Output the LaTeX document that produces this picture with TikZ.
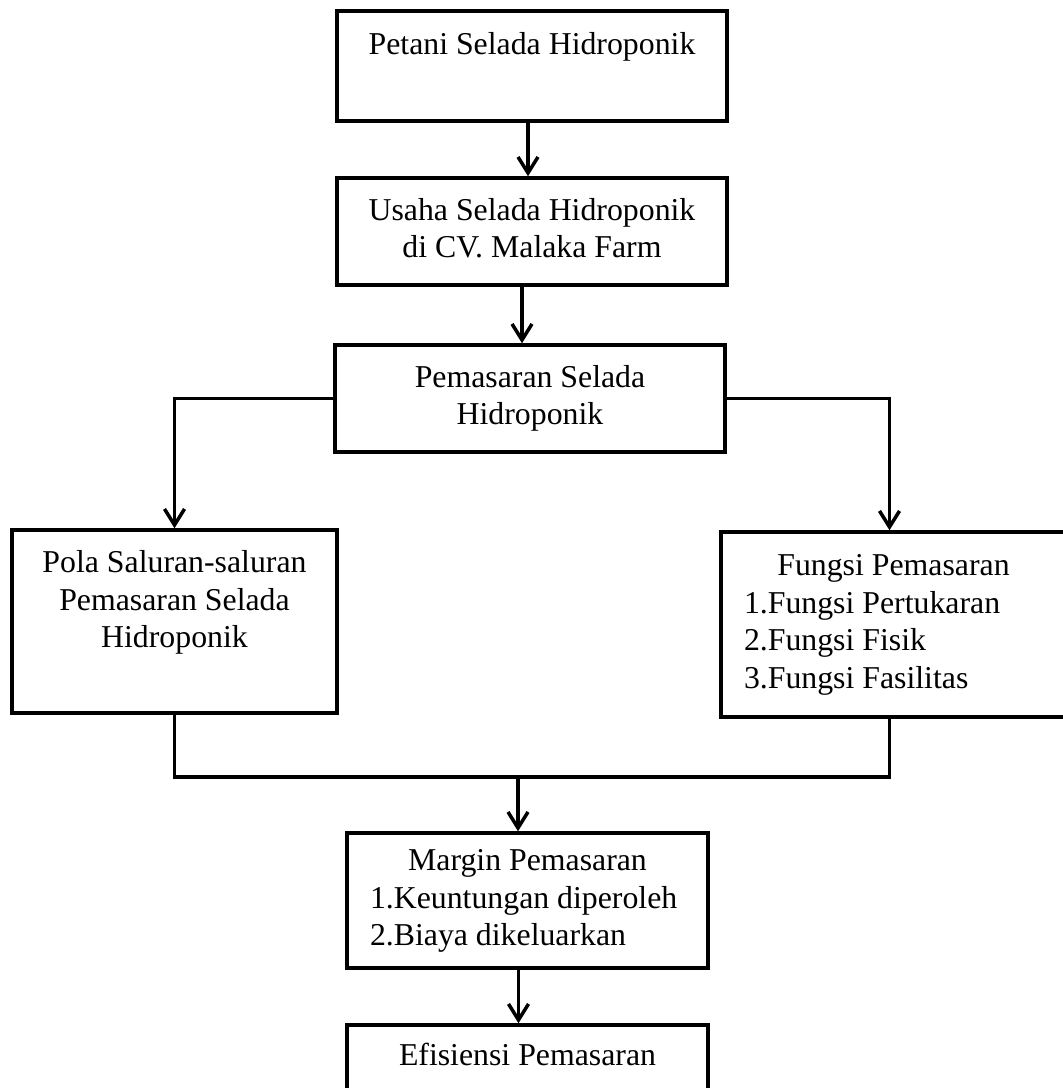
\documentclass[tikz,border=0pt]{standalone}
\usepackage{fontspec}
\setmainfont{Liberation Serif}
\usetikzlibrary{positioning, arrows.meta, calc}

\newcommand{\listline}[2]{\makebox[#1][l]{#2}}

\begin{document}
\begin{tikzpicture}[x=0.5pt,y=-0.5pt,font=\fontsize{15.9}{18.75}\selectfont,
  box/.style={draw, line width=1.75pt, inner sep=0pt, align=center},
  arr/.style={line width=1.75pt, -{Straight Barb[length=8pt,width=10pt]}},
  link/.style={line width=1.75pt}]

\useasboundingbox (0,0) rectangle (1062,1088);

% Boxes
\node[box, minimum width=195pt, minimum height=55pt] (petani) at (532,66) {\strut Petani Selada Hidroponik\\ \strut};
\node[box, minimum width=195pt, minimum height=53.5pt] (usaha) at (532,231.5) {\strut Usaha Selada Hidroponik\\ di CV. Malaka Farm\strut};
\node[box, minimum width=195pt, minimum height=53.5pt] (pemasaran) at (530,398.5) {\strut Pemasaran Selada\\ Hidroponik\strut};
\node[box, minimum width=162.5pt, minimum height=91.5pt] (pola) at (174.5,621.5) {\strut Pola Saluran-saluran\\ Pemasaran Selada\\ Hidroponik\\ \strut};
\node[box, minimum width=172.5pt, minimum height=92.5pt] (fungsi) at (893.5,624.5) {\strut Fungsi Pemasaran\\
  \listline{149.5pt}{1.Fungsi Pertukaran}\\
  \listline{149.5pt}{2.Fungsi Fisik}\\
  \listline{149.5pt}{3.Fungsi Fasilitas\strut}};
\node[box, minimum width=180.5pt, minimum height=67.5pt] (margin) at (527.5,900.5) {\strut Margin Pemasaran\\
  \listline{157.5pt}{1.Keuntungan diperoleh}\\
  \listline{157.5pt}{2.Biaya dikeluarkan\strut}};
\node[box, minimum width=180.5pt, minimum height=33pt] (efisiensi) at (527.5,1058) {\strut Efisiensi Pemasaran};

% Arrows
\draw[arr] ([xshift=-2pt]petani.south) -- ([xshift=-2pt]usaha.north);
\draw[arr] ([xshift=-5pt]usaha.south) -- ([xshift=-5pt]usaha.south |- pemasaran.north);
\draw[arr] (pemasaran.west) -| (pola.north);
\draw[arr] (pemasaran.east) -| ([xshift=-2pt]fungsi.north);

% Join
\coordinate (join) at (518,777);
\draw[link] (pola.south) |- (join) -| ([xshift=-2pt]fungsi.south);
\draw[arr] (join) -- (join |- margin.north);
\draw[arr] ([xshift=-4.5pt]margin.south) -- ([xshift=-4.5pt]margin.south |- efisiensi.north);

\end{tikzpicture}
\end{document}
